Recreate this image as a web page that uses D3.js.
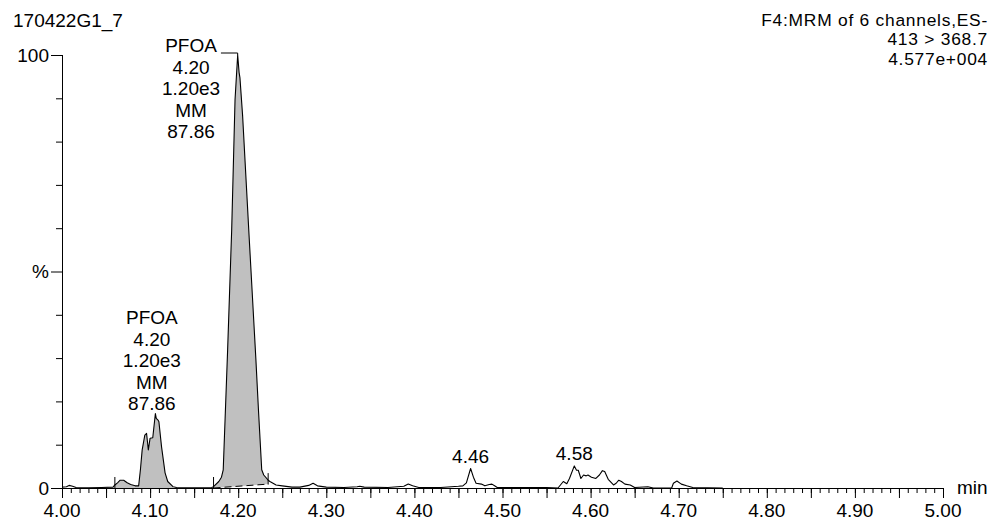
<!DOCTYPE html>
<html>
<head>
<meta charset="utf-8">
<script src="https://cdn.jsdelivr.net/npm/d3@7/dist/d3.min.js"></script>
<style>
  html, body { margin: 0; padding: 0; background: #fff; }
  svg { display: block; }
  text { font-family: "Liberation Sans", Arial, sans-serif; fill: #000; }
</style>
</head>
<body>
<svg id="chart" width="991" height="521"></svg>
<script>
// ---------------- data ----------------
const sampleName = "170422G1_7";
const headerLines = ["F4:MRM of 6 channels,ES-", "413 > 368.7", "4.577e+004"];
const xUnit = "min";

// retention time (min)
const traceTime = [
  4.000, 4.005, 4.008, 4.012, 4.016, 4.030, 4.045, 4.058,
  4.060, 4.063, 4.066, 4.070, 4.074, 4.078, 4.083, 4.087,
  4.089, 4.091, 4.094, 4.096, 4.098, 4.100, 4.103, 4.106, 4.107, 4.109, 4.110,
  4.113, 4.117, 4.120, 4.126, 4.130, 4.150, 4.170,
  4.172, 4.178, 4.181, 4.183, 4.188, 4.1926, 4.1964, 4.1994, 4.2010, 4.2020,
  4.2050, 4.2126, 4.2200, 4.2230, 4.2267, 4.2290, 4.234, 4.236, 4.243, 4.250,
  4.261, 4.270, 4.280, 4.285, 4.290, 4.300, 4.320, 4.335, 4.338, 4.343, 4.370,
  4.388, 4.393, 4.398, 4.405, 4.430, 4.450, 4.455, 4.459, 4.4638, 4.467, 4.470,
  4.476, 4.480, 4.485, 4.488, 4.491, 4.494, 4.510, 4.530, 4.550, 4.563, 4.569,
  4.573, 4.576, 4.5815, 4.584, 4.586, 4.589, 4.592, 4.595, 4.597, 4.601, 4.606,
  4.610, 4.6134, 4.616, 4.620, 4.626, 4.629, 4.632, 4.635, 4.639, 4.645, 4.650,
  4.665, 4.671, 4.692, 4.694, 4.698, 4.703, 4.709, 4.716, 4.750
];
// relative intensity (%)
const tracePct = [
  0.2, 0.3, 0.6, 0.4, 0.1, 0.05, 0.1, 0.2,
  0.7, 1.2, 1.8, 1.8, 1.2, 0.8, 0.5, 0.5,
  4.2, 8.8, 12.2, 12.6, 8.8, 11.5, 11.6, 17.2, 16.1, 15.7, 15.3,
  9.5, 3.5, 1.5, 0.3, 0.1, 0.05, 0.1,
  0.3, 1.5, 2.5, 4.2, 31.9, 59.6, 89.6, 100, 96, 94.7,
  86, 57.3, 30, 18, 4.2, 3.0, 1.8, 1.5, 0.7, 0.5,
  0.2, 0.2, 0.6, 1.1, 0.5, 0.2, 0.1, 0.3, 0.4, 0.2, 0.1,
  0.4, 0.9, 0.5, 0.1, 0.1, 0.4, 0.5, 1.2, 4.5, 2.5, 1.1,
  0.9, 0.5, 0.8, 0.9, 0.5, 0.1, 0.1, 0.1, 0.1, 0.0, 1.5,
  1.0, 2.2, 5.1, 4.1, 4.1, 2.2, 3.0, 2.8, 3.0, 2.5, 2.2,
  3.0, 4.0, 3.8, 2.0, 0.7, 1.1, 1.8, 1.5, 0.9, 0.7, 0.1,
  0.3, 0.0, 0.0, 1.1, 1.6, 0.9, 0.5, 0.1, 0.0
];

// integrated peaks: start/end time and baseline level at start/end (%)
const peakStart = [4.060, 4.172];
const peakEnd   = [4.128, 4.234];
const baseStart = [0.0, 0.0];
const baseEnd   = [0.0, 0.9];
const peakDashed = [false, true];
const peakEndMark = [false, true];

// peak annotation blocks
const annotLines = ["PFOA", "4.20", "1.20e3", "MM", "87.86"];
const annotTime  = [4.1465, 4.102];   // centre of each text block
const annotTop   = [52, 324];         // baseline of first line (px, layout)
const leaderTime = 4.1994;            // apex the first block points to

// simple retention-time labels
const rtLabelTime = [4.4638, 4.5815];
const rtLabelText = ["4.46", "4.58"];
const rtLabelPct  = [4.5, 5.1];

// axis ticks
const xMajorTicks = [4.00, 4.05, 4.10, 4.15, 4.20, 4.25, 4.30, 4.35, 4.40, 4.45, 4.50,
                     4.55, 4.60, 4.65, 4.70, 4.75, 4.80, 4.85, 4.90, 4.95, 5.00];
const xTickLabels = ["4.00","4.10","4.20","4.30","4.40","4.50","4.60","4.70","4.80","4.90","5.00"];
const yMinorTicks = [10, 20, 30, 40, 60, 70, 80, 90];
const yMajorTicks = [0, 50, 100];
const yTickLabels = ["0", "%", "100"];

// ---------------- drawing ----------------
const svg = d3.select("#chart");
const FS = 19;

const x = d3.scaleLinear().domain([4.0, 5.0]).range([62, 943]);
const y = d3.scaleLinear().domain([0, 100]).range([488, 55]);

const pts = traceTime.map((t, i) => [t, tracePct[i]]);

// filled peak areas
const area = d3.area().x(d => x(d[0])).y1(d => y(d[1])).y0(d => y(d[2]));
peakStart.forEach((s, k) => {
  const e = peakEnd[k];
  const seg = pts.filter(p => p[0] >= s && p[0] <= e).map(p => {
    const b = baseStart[k] + (baseEnd[k] - baseStart[k]) * (p[0] - s) / (e - s);
    return [p[0], Math.max(p[1], b), b];
  });
  svg.append("path").datum(seg).attr("d", area)
    .attr("fill", "#c0c0c0").attr("stroke", "none");
  if (peakDashed[k]) {
    svg.append("line")
      .attr("x1", x(s)).attr("y1", y(baseStart[k]))
      .attr("x2", x(e)).attr("y2", y(baseEnd[k]))
      .attr("stroke", "#000").attr("stroke-width", 1)
      .attr("stroke-dasharray", "7,4");
  }
  // integration markers
  const marks = [[s, baseStart[k]]];
  if (peakEndMark[k]) marks.push([e, baseEnd[k]]);
  marks.forEach(([t, b]) => {
    svg.append("line")
      .attr("x1", x(t)).attr("x2", x(t))
      .attr("y1", y(b) + 0.5).attr("y2", y(b) - 11)
      .attr("stroke", "#000").attr("stroke-width", 1);
  });
});

// trace
svg.append("path").datum(pts)
  .attr("d", d3.line().x(d => x(d[0])).y(d => y(d[1])))
  .attr("fill", "none").attr("stroke", "#000").attr("stroke-width", 1.1)
  .attr("stroke-linejoin", "round");

// x axis
const xMinor = d3.range(400, 501).map(v => v / 100);
const gx = svg.append("g").attr("transform", `translate(0,${y(0)})`);
gx.call(d3.axisBottom(x).tickValues(xMinor).tickSize(5).tickFormat(""));
gx.call(g => g.append("g").call(d3.axisBottom(x).tickValues(xMajorTicks).tickSize(10).tickFormat("")));
gx.selectAll("path.domain").attr("d", `M${x(4)},0.5H${x(5)}`);
gx.selectAll("line").attr("stroke", "#000");
gx.selectAll("path").attr("stroke", "#000");
svg.selectAll(".xlab").data(xTickLabels).enter().append("text")
  .attr("x", d => x(+d)).attr("y", 517)
  .attr("text-anchor", "middle").attr("font-size", FS).text(d => d);
svg.append("text").attr("x", 957).attr("y", 494)
  .attr("font-size", FS).text(xUnit);

// y axis
const gy = svg.append("g").attr("transform", `translate(${x(4)},0)`);
gy.call(d3.axisLeft(y).tickValues(yMinorTicks).tickSize(6).tickFormat(""));
gy.call(g => g.append("g").call(d3.axisLeft(y).tickValues(yMajorTicks).tickSize(11).tickFormat("")));
gy.selectAll("path.domain").attr("d", `M0.5,${y(100)}V${y(0)}`);
gy.selectAll("line").attr("stroke", "#000");
gy.selectAll("path").attr("stroke", "#000");
svg.selectAll(".ylab").data(yMajorTicks).enter().append("text")
  .attr("x", 49).attr("y", d => y(d)).attr("dy", "0.36em")
  .attr("text-anchor", "end").attr("font-size", FS)
  .text((d, i) => yTickLabels[i]);

// header texts
svg.append("text").attr("x", 13).attr("y", 27).attr("font-size", FS).text(sampleName);
headerLines.forEach((l, i) => {
  svg.append("text").attr("x", 988).attr("y", 25.5 + i * 19.6)
    .attr("text-anchor", "end").attr("font-size", 17.4)
    .attr("letter-spacing", "0.75px").text(l);
});

// peak annotation blocks
annotTime.forEach((t, k) => {
  const blk = svg.append("text").attr("text-anchor", "middle").attr("font-size", FS);
  annotLines.forEach((l, i) => {
    blk.append("tspan").attr("x", x(t)).attr("y", annotTop[k] + i * 21.5).text(l);
  });
});
// leader to main apex
{
  const cx = x(annotTime[0]);
  const tmp = svg.append("text").attr("font-size", FS).text(annotLines[0]);
  const w = tmp.node().getComputedTextLength();
  tmp.remove();
  const x0 = cx + w / 2 + 4;
  const ax = x(leaderTime);
  svg.append("path")
    .attr("d", `M${x0},${y(100) - 2}H${ax}V${y(100)}`)
    .attr("fill", "none").attr("stroke", "#000").attr("stroke-width", 1);
}

// retention time labels
rtLabelTime.forEach((t, i) => {
  svg.append("text").attr("x", x(t)).attr("y", y(rtLabelPct[i]) - 6)
    .attr("text-anchor", "middle").attr("font-size", FS).text(rtLabelText[i]);
});
</script>
</body>
</html>
